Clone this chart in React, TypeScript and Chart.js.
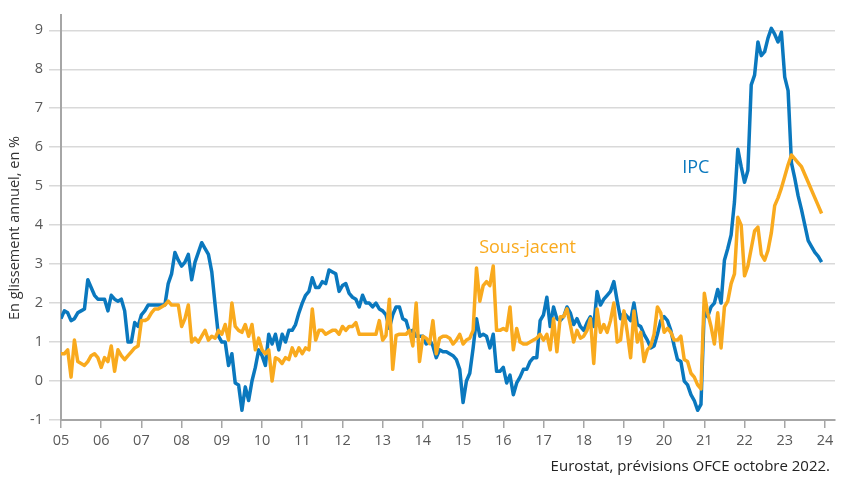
import React, { useEffect, useRef } from 'react';
import { Chart, registerables } from 'chart.js';

Chart.register(...registerables);

// ---- data (monthly, Jan 2005 .. Dec 2023) ----
const START_YEAR = 2005;
const yearTickLabels = ['05', '06', '07', '08', '09', '10', '11', '12', '13', '14', '15', '16', '17', '18', '19', '20', '21', '22', '23', '24'];
const yTickValues = [-1, 0, 1, 2, 3, 4, 5, 6, 7, 8, 9];

const ipc = [
  1.6, 1.8, 1.75, 1.55, 1.6, 1.75, 1.8, 1.85, 2.6, 2.4, 2.2, 2.1, // 2005
  2.1, 2.1, 1.8, 2.2, 2.1, 2.05, 2.1, 1.8, 1.0, 1.0, 1.5, 1.4, // 2006
  1.7, 1.8, 1.95, 1.95, 1.95, 1.95, 1.95, 1.95, 2.5, 2.75, 3.3, 3.1, // 2007
  2.95, 3.05, 3.25, 2.6, 3.05, 3.3, 3.55, 3.4, 3.25, 2.8, 1.95, 1.15, // 2008
  1.0, 1.0, 0.4, 0.7, -0.05, -0.1, -0.75, -0.15, -0.5, 0.0, 0.35, 0.8, // 2009
  0.65, 0.4, 1.2, 0.95, 1.2, 0.8, 1.2, 1.0, 1.3, 1.3, 1.45, 1.75, // 2010
  2.0, 2.2, 2.3, 2.65, 2.4, 2.4, 2.55, 2.5, 2.85, 2.8, 2.75, 2.3, // 2011
  2.45, 2.5, 2.25, 2.15, 2.1, 1.9, 2.2, 2.0, 2.0, 1.9, 2.0, 1.85, // 2012
  1.8, 1.7, 1.35, 1.7, 1.9, 1.9, 1.6, 1.55, 1.25, 1.3, 1.15, 1.15, // 2013
  1.15, 0.95, 1.05, 0.9, 0.6, 0.8, 0.75, 0.75, 0.7, 0.65, 0.55, 0.3, // 2014
  -0.55, 0.0, 0.2, 0.85, 1.6, 1.15, 1.2, 1.15, 0.85, 1.2, 0.25, 0.25, // 2015
  0.35, -0.05, 0.15, -0.35, -0.05, 0.1, 0.3, 0.3, 0.5, 0.6, 0.6, 1.55, // 2016
  1.7, 2.15, 1.4, 1.9, 1.6, 1.55, 1.65, 1.9, 1.75, 1.45, 1.6, 1.4, // 2017
  1.3, 1.5, 1.65, 1.4, 2.3, 1.95, 2.1, 2.2, 2.3, 2.55, 2.05, 1.6, // 2018
  1.75, 1.65, 1.55, 2.0, 1.45, 1.4, 1.2, 1.05, 0.85, 0.9, 1.2, 1.55, // 2019
  1.65, 1.55, 1.3, 0.9, 0.55, 0.5, 0.0, -0.1, -0.35, -0.5, -0.75, -0.6, // 2020
  1.9, 1.65, 1.9, 2.0, 2.35, 2.0, 3.1, 3.4, 3.75, 4.6, 5.95, 5.5, // 2021
  5.1, 5.4, 7.6, 7.85, 8.7, 8.35, 8.45, 8.8, 9.05, 8.9, 8.7, 8.95, // 2022
  7.8, 7.45, 5.6, 5.2, 4.75, 4.4, 4.0, 3.6, 3.45, 3.3, 3.2, 3.05, // 2023
];

const sousJacent = [
  0.7, 0.7, 0.8, 0.1, 1.05, 0.5, 0.45, 0.4, 0.5, 0.65, 0.7, 0.6, // 2005
  0.35, 0.6, 0.5, 0.9, 0.25, 0.8, 0.65, 0.55, 0.65, 0.75, 0.85, 0.9, // 2006
  1.55, 1.55, 1.6, 1.75, 1.85, 1.85, 1.9, 1.95, 2.05, 1.95, 1.95, 1.95, // 2007
  1.4, 1.6, 1.95, 1.0, 1.1, 1.0, 1.15, 1.3, 1.05, 1.15, 1.1, 1.3, // 2008
  1.2, 1.45, 1.05, 2.0, 1.4, 1.3, 1.25, 1.45, 1.15, 1.45, 0.8, 1.1, // 2009
  0.8, 0.7, 0.8, 0.0, 0.6, 0.55, 0.45, 0.6, 0.55, 0.85, 0.65, 0.85, // 2010
  0.7, 0.85, 0.8, 1.85, 1.05, 1.3, 1.3, 1.2, 1.25, 1.3, 1.3, 1.2, // 2011
  1.4, 1.3, 1.4, 1.4, 1.5, 1.2, 1.2, 1.2, 1.2, 1.2, 1.2, 1.55, // 2012
  1.05, 1.17, 2.1, 0.3, 1.17, 1.2, 1.2, 1.2, 1.3, 0.9, 2.0, 0.5, // 2013
  1.15, 1.1, 0.96, 1.55, 0.7, 1.1, 1.15, 1.15, 1.1, 0.95, 1.05, 1.2, // 2014
  0.95, 1.05, 1.1, 1.3, 2.9, 2.05, 2.45, 2.55, 2.45, 2.95, 1.3, 1.3, // 2015
  1.35, 1.3, 1.9, 0.8, 1.35, 1.0, 0.95, 0.95, 1.0, 1.05, 1.1, 1.2, // 2016
  1.05, 1.2, 0.8, 1.6, 0.75, 1.65, 1.65, 1.85, 1.45, 1.0, 1.3, 1.1, // 2017
  1.15, 1.3, 1.6, 0.45, 1.85, 1.25, 1.45, 1.25, 1.55, 2.0, 1.0, 1.05, // 2018
  1.8, 1.25, 0.6, 1.8, 1.0, 1.25, 0.5, 0.8, 0.9, 1.2, 1.9, 1.75, // 2019
  1.25, 1.35, 1.25, 1.05, 1.05, 1.15, 0.55, 0.5, 0.2, 0.1, -0.1, -0.2, // 2020
  2.25, 1.75, 1.4, 0.95, 1.75, 0.85, 1.9, 2.05, 2.5, 2.75, 4.2, 4.0, // 2021
  2.7, 2.95, 3.4, 3.85, 3.95, 3.25, 3.1, 3.35, 3.8, 4.5, 4.7, 4.95, // 2022
  5.25, 5.55, 5.8, 5.7, 5.6, 5.5, 5.3, 5.1, 4.9, 4.7, 4.5, 4.3, // 2023
];

const SERIES_IPC = 'IPC';
const SERIES_SJ = 'Sous-jacent';
const Y_TITLE = 'En glissement annuel, en %';
const SOURCE = 'Eurostat, prévisions OFCE octobre 2022.';

const BLUE = '#0a78be';
const ORANGE = '#f9aa1e';
const FONT = '"Open Sans", "DejaVu Sans", sans-serif';

const toPoints = (arr: number[]) => arr.map((v, i) => ({ x: START_YEAR + i / 12, y: v }));

const annotate = {
  id: 'annotate',
  afterDraw(chart: any) {
    const { ctx } = chart;
    const x = chart.scales.x;
    const y = chart.scales.y;
    ctx.save();
    ctx.textBaseline = 'middle';
    ctx.textAlign = 'left';
    ctx.font = `18px ${FONT}`;
    ctx.fillStyle = BLUE;
    ctx.fillText(SERIES_IPC, x.getPixelForValue(2020.45), y.getPixelForValue(5.46));
    ctx.fillStyle = ORANGE;
    ctx.fillText(SERIES_SJ, x.getPixelForValue(2015.4), y.getPixelForValue(3.42));

    // y axis title
    ctx.save();
    ctx.translate(15, 228);
    ctx.rotate(-Math.PI / 2);
    ctx.textAlign = 'center';
    ctx.fillStyle = '#333333';
    ctx.font = `14.5px ${FONT}`;
    ctx.fillText(Y_TITLE, 0, 0);
    ctx.restore();

    // source
    ctx.textAlign = 'right';
    ctx.fillStyle = '#222222';
    ctx.font = `15px ${FONT}`;
    ctx.fillText(SOURCE, 830, 467);
    ctx.restore();
  },
};

export default function App() {
  const ref = useRef<HTMLCanvasElement | null>(null);

  useEffect(() => {
    if (!ref.current) return;
    const chart = new Chart(ref.current, {
      type: 'line',
      data: {
        datasets: [
          {
            label: SERIES_SJ,
            data: toPoints(sousJacent),
            borderColor: ORANGE,
            backgroundColor: ORANGE,
            borderWidth: 3.5,
            pointRadius: 0,
            tension: 0,
            borderJoinStyle: 'round',
          },
          {
            label: SERIES_IPC,
            data: toPoints(ipc),
            borderColor: BLUE,
            backgroundColor: BLUE,
            borderWidth: 3.5,
            pointRadius: 0,
            tension: 0,
            borderJoinStyle: 'round',
          },
        ],
      },
      options: {
        animation: false,
        responsive: false,
        devicePixelRatio: 1,
        layout: { padding: { top: 12, right: 6, left: 0, bottom: 0 } },
        plugins: {
          legend: { display: false },
          tooltip: { enabled: false },
        },
        scales: {
          x: {
            type: 'linear',
            min: START_YEAR,
            max: 2024.25,
            afterBuildTicks: (scale: any) => {
              scale.ticks = yearTickLabels.map((_, i) => ({ value: START_YEAR + i }));
            },
            afterFit: (scale: any) => {
              scale.height = 57;
            },
            grid: {
              drawOnChartArea: false,
              drawTicks: true,
              tickLength: 8,
              color: '#a6a6a6',
              lineWidth: 1.5,
            },
            border: { display: true, color: '#a6a6a6', width: 2 },
            ticks: {
              autoSkip: false,
              maxRotation: 0,
              padding: 4,
              color: '#595959',
              font: { family: FONT, size: 14.5 },
              callback: (v: any) => yearTickLabels[Math.round(Number(v) - START_YEAR)] ?? '',
            },
          },
          y: {
            type: 'linear',
            min: -1,
            max: 9.4,
            afterBuildTicks: (scale: any) => {
              scale.ticks = yTickValues.map((v) => ({ value: v }));
            },
            afterFit: (scale: any) => {
              scale.width = 61;
            },
            grid: {
              color: '#d9d9d9',
              lineWidth: 1.5,
              tickLength: 12,
            },
            border: { display: true, color: '#a6a6a6', width: 2 },
            ticks: {
              padding: 6,
              color: '#595959',
              font: { family: FONT, size: 14.5 },
              callback: (v: any) => String(v),
            },
          },
        },
      },
      plugins: [annotate],
    });
    return () => chart.destroy();
  }, []);

  return (
    <canvas
      ref={ref}
      width={841}
      height={477}
      style={{ position: 'absolute', left: 0, top: 0, display: 'block', width: 841, height: 477 }}
    />
  );
}
